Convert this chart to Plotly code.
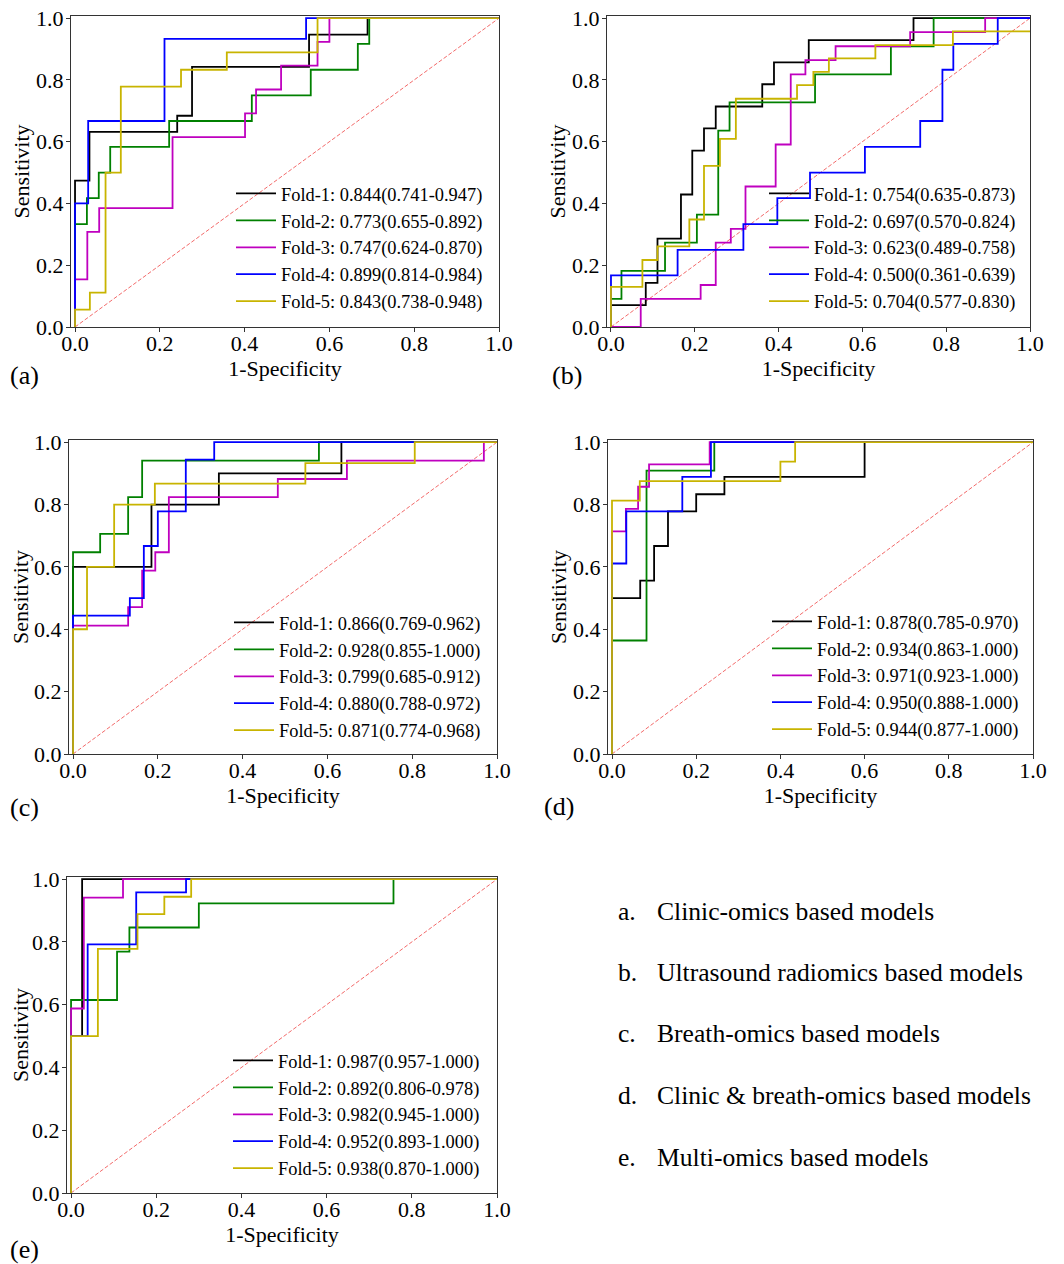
import plotly.graph_objects as go

# page is placed with an 8px body margin; keep figure inside the window
OFF = 8
FW, FH = 1064 - OFF, 1264 - OFF
FONT = "Liberation Serif"
COLORS = ["#000000", "#008000", "#bf00bf", "#0000ff", "#c8b400"]
DIAG_COLOR = "rgba(240,80,80,0.85)"

# ---------------- data (corner points of ROC step curves) ----------------
# Panel (a) Clinic-omics
FPR_A = [
    [0, 0, 0.034, 0.241, 0.276, 0.552, 0.690, 1.0],
    [0, 0, 0.028, 0.056, 0.083, 0.222, 0.417, 0.556, 0.667, 0.694, 1.0],
    [0, 0, 0.029, 0.057, 0.230, 0.401, 0.427, 0.486, 0.572, 0.600, 1.0],
    [0, 0, 0.031, 0.211, 0.545, 1.0],
    [0, 0, 0.035, 0.072, 0.108, 0.250, 0.358, 0.572, 1.0],
]
TPR_A = [
    [0, 0.474, 0.632, 0.684, 0.842, 0.947, 1.0, 1.0],
    [0, 0.333, 0.417, 0.500, 0.583, 0.667, 0.750, 0.833, 0.917, 1.0, 1.0],
    [0, 0.154, 0.308, 0.385, 0.615, 0.692, 0.769, 0.846, 0.923, 1.0, 1.0],
    [0, 0.400, 0.667, 0.933, 1.0, 1.0],
    [0, 0.056, 0.111, 0.500, 0.778, 0.833, 0.889, 1.0, 1.0],
]
AUC_A = [0.844, 0.773, 0.747, 0.899, 0.843]
LO_A = [0.741, 0.655, 0.624, 0.814, 0.738]
HI_A = [0.947, 0.892, 0.870, 0.984, 0.948]

# Panel (b) Ultrasound radiomics
FPR_B = [
    [0, 0, 0.083, 0.111, 0.167, 0.194, 0.222, 0.250, 0.361, 0.389, 0.472, 0.722, 1.0],
    [0, 0, 0.025, 0.129, 0.205, 0.256, 0.283, 0.487, 0.668, 0.770, 1.0],
    [0, 0.071, 0.214, 0.250, 0.286, 0.321, 0.393, 0.429, 0.464, 0.536, 0.714, 0.893, 1.0],
    [0, 0, 0.159, 0.316, 0.397, 0.475, 0.606, 0.738, 0.791, 0.817, 0.923, 1.0],
    [0, 0, 0.075, 0.111, 0.187, 0.222, 0.260, 0.298, 0.444, 0.483, 0.520, 0.631, 0.816, 1.0],
]
TPR_B = [
    [0, 0.071, 0.143, 0.286, 0.429, 0.571, 0.643, 0.714, 0.786, 0.857, 0.929, 1.0, 1.0],
    [0, 0.091, 0.182, 0.273, 0.364, 0.636, 0.727, 0.818, 0.909, 1.0, 1.0],
    [0, 0.091, 0.136, 0.273, 0.318, 0.455, 0.591, 0.818, 0.864, 0.909, 0.955, 1.0, 1.0],
    [0, 0.167, 0.250, 0.333, 0.417, 0.500, 0.583, 0.667, 0.833, 0.917, 1.0, 1.0],
    [0, 0.130, 0.217, 0.261, 0.348, 0.522, 0.609, 0.739, 0.783, 0.826, 0.870, 0.913, 0.957, 0.957],
]
AUC_B = [0.754, 0.697, 0.623, 0.500, 0.704]
LO_B = [0.635, 0.570, 0.489, 0.361, 0.577]
HI_B = [0.873, 0.824, 0.758, 0.639, 0.830]

# Panel (c) Breath-omics
FPR_C = [
    [0, 0, 0.185, 0.344, 0.633, 1.0],
    [0, 0, 0.064, 0.130, 0.163, 0.580, 1.0],
    [0, 0, 0.130, 0.163, 0.194, 0.226, 0.483, 0.646, 0.969, 1.0],
    [0, 0, 0.134, 0.167, 0.200, 0.266, 0.333, 1.0],
    [0, 0, 0.033, 0.097, 0.193, 0.548, 0.806, 1.0],
]
TPR_C = [
    [0, 0.600, 0.800, 0.900, 1.0, 1.0],
    [0, 0.647, 0.706, 0.824, 0.941, 1.0, 1.0],
    [0, 0.412, 0.471, 0.588, 0.647, 0.824, 0.882, 0.941, 1.0, 1.0],
    [0, 0.444, 0.500, 0.667, 0.778, 0.944, 1.0, 1.0],
    [0, 0.400, 0.600, 0.800, 0.867, 0.933, 1.0, 1.0],
]
AUC_C = [0.866, 0.928, 0.799, 0.880, 0.871]
LO_C = [0.769, 0.855, 0.685, 0.788, 0.774]
HI_C = [0.962, 1.000, 0.912, 0.972, 0.968]

# Panel (d) Clinic & breath-omics
FPR_D = [
    [0, 0, 0.067, 0.100, 0.133, 0.200, 0.267, 0.600, 1.0],
    [0, 0, 0.082, 0.243, 1.0],
    [0, 0, 0.033, 0.062, 0.088, 0.232, 1.0],
    [0, 0, 0.034, 0.167, 0.235, 1.0],
    [0, 0, 0.066, 0.400, 0.435, 1.0],
]
TPR_D = [
    [0, 0.500, 0.556, 0.667, 0.778, 0.833, 0.889, 1.0, 1.0],
    [0, 0.364, 0.909, 1.0, 1.0],
    [0, 0.714, 0.786, 0.857, 0.929, 1.0, 1.0],
    [0, 0.611, 0.778, 0.889, 1.0, 1.0],
    [0, 0.8125, 0.875, 0.9375, 1.0, 1.0],
]
AUC_D = [0.878, 0.934, 0.971, 0.950, 0.944]
LO_D = [0.785, 0.863, 0.923, 0.888, 0.877]
HI_D = [0.970, 1.000, 1.000, 1.000, 1.000]

# Panel (e) Multi-omics
FPR_E = [
    [0, 0, 0.026, 1.0],
    [0, 0, 0.108, 0.137, 0.300, 0.757, 1.0],
    [0, 0, 0.030, 0.122, 1.0],
    [0, 0, 0.039, 0.153, 0.270, 1.0],
    [0, 0, 0.063, 0.156, 0.219, 0.282, 1.0],
]
TPR_E = [
    [0, 0.500, 1.0, 1.0],
    [0, 0.615, 0.769, 0.846, 0.923, 1.0, 1.0],
    [0, 0.588, 0.941, 1.0, 1.0],
    [0, 0.500, 0.792, 0.958, 1.0, 1.0],
    [0, 0.500, 0.778, 0.889, 0.944, 1.0, 1.0],
]
AUC_E = [0.987, 0.892, 0.982, 0.952, 0.938]
LO_E = [0.957, 0.806, 0.945, 0.893, 0.870]
HI_E = [1.000, 0.978, 1.000, 1.000, 1.000]

FOLDS = ["Fold-1", "Fold-2", "Fold-3", "Fold-4", "Fold-5"]
TICKS = [0.0, 0.2, 0.4, 0.6, 0.8, 1.0]
PANEL_TAGS = ["(a)", "(b)", "(c)", "(d)", "(e)"]
MODEL_KEYS = ["a.", "b.", "c.", "d.", "e."]
MODEL_NAMES = [
    "Clinic-omics based models",
    "Ultrasound radiomics based models",
    "Breath-omics based models",
    "Clinic &amp; breath-omics based models",
    "Multi-omics based models",
]

# ---------------- layout geometry (screen pixels) ----------------
FRAMES = [
    (71, 499, 16, 327),
    (607, 1030, 16, 327),
    (69, 497, 440, 754),
    (608, 1033, 440, 754),
    (67, 497, 877, 1193),
]
LEGEND_POS = [(231, 175), (764, 175), (229, 604), (767, 603), (228, 1042)]
TAG_POS = [(24, 375), (567, 375), (24, 807), (559, 806), (24, 1249)]
LIST_Y = [912, 972, 1033, 1095, 1157]


def px(x):
    return (x - OFF) / FW


def py(y):
    return 1 - (y - OFF) / FH


panels = [
    (FPR_A, TPR_A, AUC_A, LO_A, HI_A),
    (FPR_B, TPR_B, AUC_B, LO_B, HI_B),
    (FPR_C, TPR_C, AUC_C, LO_C, HI_C),
    (FPR_D, TPR_D, AUC_D, LO_D, HI_D),
    (FPR_E, TPR_E, AUC_E, LO_E, HI_E),
]

fig = go.Figure()
layout = dict(
    width=FW, height=FH,
    margin=dict(l=0, r=0, t=0, b=0, autoexpand=False),
    paper_bgcolor="white", plot_bgcolor="white",
    font=dict(family=FONT, color="black"),
    showlegend=True,
)

axis_common = dict(
    automargin=False,
    showline=True, linecolor="#333333", linewidth=1.3, mirror=True,
    ticks="outside", ticklen=4, tickwidth=1.1, tickcolor="#333333",
    showgrid=False, zeroline=False,
    tickvals=TICKS, tickformat=".1f",
    ticklabeloverflow="allow",
    tickfont=dict(family=FONT, size=22, color="black"),
)

annotations = []
for p, (fprs, tprs, aucs, los, his) in enumerate(panels):
    k = "" if p == 0 else str(p + 1)
    xa, ya = "x" + k, "y" + k
    lg = "legend" + k
    l, r, t, b = FRAMES[p]
    layout["xaxis" + k] = dict(
        axis_common, domain=[px(l), px(r)], range=[-0.0095, 1.0], anchor=ya,
        ticklabelstandoff=-8,
        title=dict(text="1-Specificity", font=dict(family=FONT, size=22, color="black"), standoff=5),
    )
    layout["yaxis" + k] = dict(
        axis_common, domain=[py(b), py(t)], range=[0.0, 1.007], anchor=xa,
        ticklabelstandoff=-2,
        title=dict(text="Sensitivity", font=dict(family=FONT, size=22, color="black"), standoff=0),
    )
    lx, ly = LEGEND_POS[p]
    layout[lg] = dict(
        x=px(lx), y=py(ly), xanchor="left", yanchor="top",
        bgcolor="rgba(0,0,0,0)", borderwidth=0,
        font=dict(family=FONT, size=18.4, color="black"),
        itemwidth=40,
    )
    fig.add_trace(go.Scatter(
        x=[0, 1], y=[0, 1], mode="lines", xaxis=xa, yaxis=ya,
        line=dict(color=DIAG_COLOR, width=1, dash="4px,2px"),
        showlegend=False, hoverinfo="skip",
    ))
    for i in range(5):
        fig.add_trace(go.Scatter(
            x=fprs[i], y=tprs[i], mode="lines", line_shape="hv",
            xaxis=xa, yaxis=ya, legend=lg,
            line=dict(color=COLORS[i], width=1.8),
            name=f"{FOLDS[i]}: {aucs[i]:.3f}({los[i]:.3f}-{his[i]:.3f})",
        ))
    tx, ty = TAG_POS[p]
    annotations.append(dict(
        x=px(tx), y=py(ty), xref="paper", yref="paper", text=PANEL_TAGS[p],
        showarrow=False, xanchor="center", yanchor="middle",
        font=dict(family=FONT, size=26, color="black"),
    ))

for j in range(5):
    yy = py(LIST_Y[j])
    annotations.append(dict(
        x=px(616), y=yy, xref="paper", yref="paper", text=MODEL_KEYS[j],
        showarrow=False, xanchor="left", yanchor="middle",
        font=dict(family=FONT, size=25.6, color="black"),
    ))
    annotations.append(dict(
        x=px(655), y=yy, xref="paper", yref="paper", text=MODEL_NAMES[j],
        showarrow=False, xanchor="left", yanchor="middle",
        font=dict(family=FONT, size=25.6, color="black"),
    ))

layout["annotations"] = annotations
fig.update_layout(**layout)
fig.write_html("out.html")
